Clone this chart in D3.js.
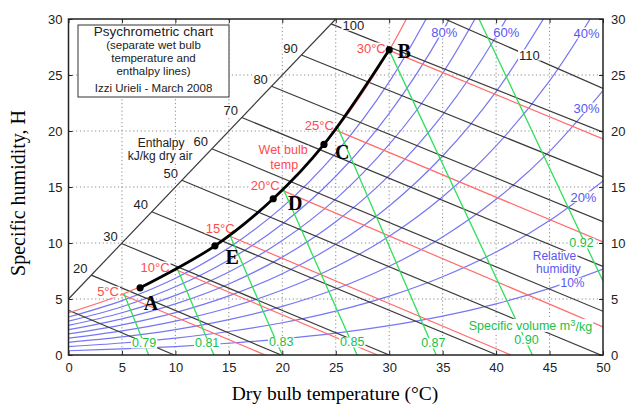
<!DOCTYPE html>
<html>
<head>
<meta charset="utf-8">
<style>
  body { margin: 0; background: #fff; }
  svg { display: block; }
  .grid line { stroke: #8a8a8a; stroke-width: 1; stroke-dasharray: 1.2,2.6; }
  .rh { fill: none; stroke: #7676f4; stroke-width: 1.2; }
  .enth { fill: none; stroke: #3a3a3a; stroke-width: 1.2; }
  .wb { fill: none; stroke: #ff6b6b; stroke-width: 1.2; }
  .vol { fill: none; stroke: #2fe05a; stroke-width: 1.3; }
  .lab { font: 13px "Liberation Sans", Arial, sans-serif; }
  .red { fill: #ff4b4b; }
  .blue { fill: #5757f2; }
  .green { fill: #20bf48; }
  .black { fill: #222; }
  .axis text { font: 13px "Liberation Sans", Arial, sans-serif; fill: #222; }
  .axis line { stroke: #222; }
  .axis path { display: none; }
  .title { font-family: "Liberation Serif", "Times New Roman", serif; fill: #000; }
  .pt { font: bold 20px "Liberation Serif", "Times New Roman", serif; fill: #000; }
  .legend text { font: 11.5px "Liberation Sans", Arial, sans-serif; fill: #222; text-anchor: middle; }
</style>
<script src="https://d3js.org/d3.v7.min.js"></script>
</head>
<body>
<svg width="631" height="406"></svg>
<script>
// ---- data ----
var xTicks = [0, 5, 10, 15, 20, 25, 30, 35, 40, 45, 50];
var yTicks = [0, 5, 10, 15, 20, 25, 30];

// saturation (100%) humidity, g/kg
var satT = [0, 5, 10, 15, 20, 25, 30, 35];
var satH = [3.77, 5.40, 7.63, 10.65, 14.70, 20.08, 27.20, 36.58];

// relative humidity curves, every 5 degC
var rhT = [0, 5, 10, 15, 20, 25, 30, 35, 40, 45, 50];
var rh10 = [0.38, 0.54, 0.75, 1.05, 1.44, 1.95, 2.62, 3.47, 4.57, 5.95, 7.67];
var rh20 = [0.75, 1.07, 1.51, 2.10, 2.88, 3.92, 5.26, 6.99, 9.20, 12.00, 15.54];
var rh30 = [1.13, 1.61, 2.27, 3.16, 4.34, 5.89, 7.92, 10.54, 13.90, 18.18, 23.61];
var rh40 = [1.50, 2.15, 3.03, 4.22, 5.80, 7.88, 10.60, 14.13, 18.68, 24.48, 31.88];
var rh50 = [1.88, 2.69, 3.79, 5.28, 7.26, 9.88, 13.31, 17.77, 23.52, 30.91];
var rh60 = [2.26, 3.23, 4.56, 6.34, 8.74, 11.90, 16.04, 21.44, 28.44, 37.46];
var rh70 = [2.64, 3.77, 5.32, 7.41, 10.22, 13.92, 18.80, 25.16, 33.44];
var rh80 = [3.02, 4.31, 6.09, 8.49, 11.70, 15.96, 21.58, 28.92, 38.51];
var rh90 = [3.39, 4.86, 6.86, 9.57, 13.20, 18.02, 24.38, 32.73];

// enthalpy lines kJ/kg: start and end points [T, H]
var enthalpy = [10, 20, 30, 40, 50, 60, 70, 80, 90, 100, 110];
var enthalpyFrom = [[0, 4.0], [2.13, 7.13], [4.96, 9.96], [7.79, 12.79], [10.6, 15.6], [13.41, 18.41],
                    [16.21, 21.21], [19.0, 24.0], [21.79, 26.79], [24.56, 29.56], [35.2, 30]];
var enthalpyTo = [[9.9, 0], [19.9, 0], [30.0, 0], [40.1, 0], [49.8, 0], [50, 3.9],
                  [50, 7.9], [50, 11.9], [50, 15.9], [50, 19.9], [50, 23.8]];
var enthalpyScale = [[0, 5.0], [25, 30]];

// wet bulb lines
var wetBulbT = [5, 10, 15, 20, 25, 30];
var wetBulbH = [5.40, 7.63, 10.65, 14.70, 20.08, 27.20];
var wetBulbTo = [[18.4, 0], [28.9, 0], [41.4, 0], [50, 2.5], [50, 10.1], [50, 19.3]];

// specific volume lines m3/kg
var volume = ["0.79", "0.81", "0.83", "0.85", "0.87", "0.90", "0.92"];
var volumeFrom = [[5.2, 5.45], [10.2, 7.65], [15.1, 10.7], [20.1, 14.8], [25.2, 20.3], [30, 27.2], [38.4, 30]];
var volumeTo = [[7.5, 0], [13.6, 0], [20.0, 0], [27.0, 0], [34.4, 0], [43.4, 0], [50, 6.6]];

// process A -> B
var processName = ["A", "E", "D", "C", "B"];
var processT = [6.7, 13.7, 19.15, 23.9, 30.0];
var processH = [6.0, 9.75, 13.95, 18.8, 27.25];

// ---- drawing ----
var svg = d3.select("svg");
var x = d3.scaleLinear().domain([0, 50]).range([68.5, 603]);
var y = d3.scaleLinear().domain([0, 30]).range([355, 19]);

svg.append("clipPath").attr("id", "plotclip").append("rect")
    .attr("x", x(0)).attr("y", y(30))
    .attr("width", x(50) - x(0)).attr("height", y(0) - y(30));

// dotted grid
var grid = svg.append("g").attr("class", "grid");
grid.selectAll(".gx").data(xTicks.slice(1, -1)).enter().append("line")
    .attr("x1", d => x(d)).attr("x2", d => x(d)).attr("y1", y(0)).attr("y2", y(30));
grid.selectAll(".gy").data(yTicks.slice(1, -1)).enter().append("line")
    .attr("x1", x(0)).attr("x2", x(50)).attr("y1", d => y(d)).attr("y2", d => y(d));

var plot = svg.append("g").attr("clip-path", "url(#plotclip)");
var straight = d3.line().x(d => x(d[0])).y(d => y(d[1]));
var smooth = d3.line().x(d => x(d[0])).y(d => y(d[1])).curve(d3.curveCatmullRom.alpha(0.5));

// relative humidity
[rh10, rh20, rh30, rh40, rh50, rh60, rh70, rh80, rh90].forEach(function (hs) {
    plot.append("path").attr("class", "rh")
        .datum(hs.map((h, i) => [rhT[i], h]))
        .attr("d", smooth);
});

// enthalpy
enthalpy.forEach(function (h, i) {
    plot.append("path").attr("class", "enth")
        .datum([enthalpyFrom[i], enthalpyTo[i]])
        .attr("d", straight);
});
plot.append("path").attr("class", "enth").datum(enthalpyScale).attr("d", straight);

// wet bulb + saturation
wetBulbT.forEach(function (t, i) {
    plot.append("path").attr("class", "wb")
        .datum([[t, wetBulbH[i]], wetBulbTo[i]])
        .attr("d", straight);
});
plot.append("path").attr("class", "wb")
    .datum(satT.map((t, i) => [t, satH[i]]))
    .attr("d", smooth);

// specific volume
volume.forEach(function (v, i) {
    plot.append("path").attr("class", "vol")
        .datum([volumeFrom[i], volumeTo[i]])
        .attr("d", straight);
});

// ---- labels with white backing (all backings under all texts) ----
var backs = svg.append("g");
var labels = svg.append("g");
function backing(t) {
    var b = t.node().getBBox();
    backs.append("rect")
        .attr("x", b.x - 1).attr("y", b.y + 2)
        .attr("width", b.width + 2).attr("height", b.height - 4)
        .attr("fill", "#fff");
}
function addLabel(T, H, txt, cls, size) {
    var t = labels.append("text")
        .attr("class", "lab " + cls)
        .attr("x", x(T)).attr("y", y(H))
        .attr("dy", "0.35em")
        .attr("text-anchor", "middle")
        .text(txt);
    if (size) t.style("font-size", size + "px");
    backing(t);
    return t;
}

// enthalpy numbers sit just above-left of where each line starts
enthalpy.forEach(function (h, i) {
    if (h < 20 || h > 90) return;
    var p = enthalpyFrom[i];
    addLabel(x.invert(x(p[0]) - 11), y.invert(y(p[1]) - 7), String(h), "black");
});
addLabel(26.64, 29.46, "100", "black");
addLabel(43.12, 26.79, "110", "black");
addLabel(8.66, 18.97, "Enthalpy", "black", 12);
addLabel(8.57, 17.77, "kJ/kg dry air", "black", 12);

var wbPos = [[3.70, 5.63], [8.10, 7.86], [14.19, 11.34], [18.40, 15.18], [23.46, 20.54], [28.32, 27.41]];
wetBulbT.forEach(function (t, i) { addLabel(wbPos[i][0], wbPos[i][1], t + "°C", "red"); });
addLabel(20.08, 18.3, "Wet bulb", "red", 12.5);
addLabel(20.18, 17.0, "temp", "red", 12.5);

var rhPos = [["80%", 35.16, 28.84], ["60%", 40.96, 28.84], ["40%", 48.46, 28.75], ["30%", 48.46, 22.05],
             ["20%", 48.17, 14.11]];
rhPos.forEach(function (r) { addLabel(r[1], r[2], r[0], "blue"); });
addLabel(45.46, 8.88, "Relative", "blue", 12);
addLabel(45.83, 7.68, "humidity", "blue", 12);
addLabel(47.15, 6.47, "10%", "blue", 12);

var volPos = [[7.07, 1.07], [12.97, 1.07], [19.90, 1.16], [26.54, 1.16], [34.13, 1.07], [42.84, 1.34], [47.99, 10.0]];
volume.forEach(function (v, i) { addLabel(volPos[i][0], volPos[i][1], v, "green", 12.5); });

// "Specific volume m3/kg" with superscript
(function () {
    var t = labels.append("text").attr("class", "lab green")
        .style("font-size", "12.5px")
        .attr("x", x(43.21)).attr("y", y(2.65)).attr("dy", "0.35em").attr("text-anchor", "middle");
    t.append("tspan").text("Specific volume m");
    t.append("tspan").attr("dy", "-0.4em").style("font-size", "9.5px").text("3");
    t.append("tspan").attr("dy", "0.4em").text("/kg");
    backing(t);
})();

// ---- process line A..B ----
var proc = processT.map((t, i) => [t, processH[i]]);
svg.append("path").datum(proc)
    .attr("d", smooth)
    .attr("fill", "none").attr("stroke", "#000").attr("stroke-width", 2.8);
svg.selectAll(".dot").data(proc).enter().append("circle")
    .attr("cx", d => x(d[0])).attr("cy", d => y(d[1])).attr("r", 3.6).attr("fill", "#000");

var letterPos = [[7.72, 4.64], [15.31, 8.75], [21.21, 13.57], [25.61, 18.13], [31.41, 27.14]];
processName.forEach(function (n, i) {
    svg.append("text").attr("class", "pt")
        .attr("x", x(letterPos[i][0])).attr("y", y(letterPos[i][1]))
        .attr("dy", "0.35em").attr("text-anchor", "middle").text(n);
});

// ---- legend box ----
var lg = svg.append("g").attr("class", "legend");
lg.append("rect").attr("x", 78).attr("y", 25).attr("width", 151).attr("height", 72)
    .attr("fill", "#fff").attr("stroke", "#333").attr("stroke-width", 1);
var legendRows = [["Psychrometric chart", 31.5, 13.5], ["(separate wet bulb", 45, 11.5],
                  ["temperature and", 58, 11.5], ["enthalpy lines)", 71, 11.5],
                  ["Izzi Urieli - March 2008", 88, 11.5]];
legendRows.forEach(function (r) {
    lg.append("text").attr("x", 153.5).attr("y", r[1]).attr("dy", "0.35em")
        .style("font-size", r[2] + "px").text(r[0]);
});

// ---- frame and axes ----
svg.append("rect").attr("x", x(0)).attr("y", y(30))
    .attr("width", x(50) - x(0)).attr("height", y(0) - y(30))
    .attr("fill", "none").attr("stroke", "#222").attr("stroke-width", 1.5);

svg.append("g").attr("class", "axis").attr("transform", "translate(0," + y(0) + ")")
    .call(d3.axisBottom(x).tickValues(xTicks).tickSize(-4).tickPadding(8));
svg.append("g").attr("class", "axis").attr("transform", "translate(0," + y(30) + ")")
    .call(d3.axisTop(x).tickValues(xTicks).tickSize(-4).tickFormat(""));
svg.append("g").attr("class", "axis").attr("transform", "translate(" + x(0) + ",0)")
    .call(d3.axisLeft(y).tickValues(yTicks).tickSize(-4).tickPadding(6));
svg.append("g").attr("class", "axis").attr("transform", "translate(" + x(50) + ",0)")
    .call(d3.axisRight(y).tickValues(yTicks).tickSize(-4).tickPadding(8));

svg.append("text").attr("class", "title")
    .attr("x", 335).attr("y", 400).attr("text-anchor", "middle")
    .style("font-size", "19.5px")
    .text("Dry bulb temperature (°C)");
svg.append("text").attr("class", "title")
    .attr("transform", "translate(18,193) rotate(-90)")
    .attr("dy", "0.35em").attr("text-anchor", "middle")
    .style("font-size", "20px")
    .text("Specific humidity, H");
</script>
</body>
</html>
